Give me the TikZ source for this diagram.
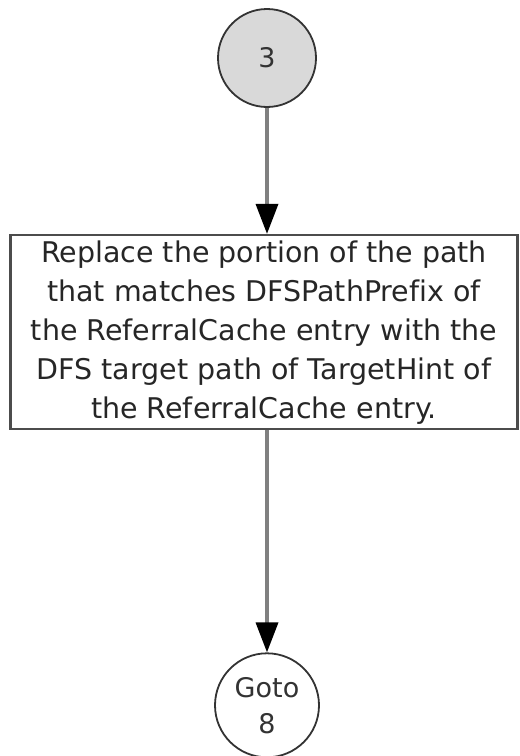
\documentclass[tikz,border=0pt]{standalone}
\usepackage{fontspec}
\setmainfont{DejaVu Sans}[Ligatures=NoCommon]
\usetikzlibrary{positioning,arrows.meta}
\tikzset{node distance=126bp, auto,
  flow/.style={draw=black!50, line width=3.5bp, -{Triangle[length=30bp,width=22bp,fill=black,color=black]}},
  conn/.style={circle, draw=black!80, line width=1.8bp, minimum size=98bp, inner sep=0pt, align=center,
    font=\fontsize{27bp}{36bp}\selectfont, text=black!80},
  stepbox/.style={rectangle, draw=black!70, line width=2.5bp, minimum width=507bp, minimum height=194bp,
    align=center, font=\fontsize{28.5bp}{39bp}\selectfont, text=black!85}}

\begin{document}
\begin{tikzpicture}
  \useasboundingbox (0bp,0bp) rectangle (520bp,-756bp);
                \node (C3) [conn, fill=black!15] at (267bp,-58bp) {3};
                \node (R)  [stepbox, below=of C3, xshift=-3bp] {Replace the portion of the path\\that matches DFSPathPrefix of\\the ReferralCache entry with the\\DFS target path of TargetHint of\\the ReferralCache entry.};
                \node (G8) [conn, below=222bp of R.south, anchor=north, xshift=3bp, minimum size=104bp] {Goto\\8};
                \draw[flow] (C3) -- (C3 |- R.north);
                \draw[flow] (G8 |- R.south) -- (G8);
              \end{tikzpicture}
\end{document}
